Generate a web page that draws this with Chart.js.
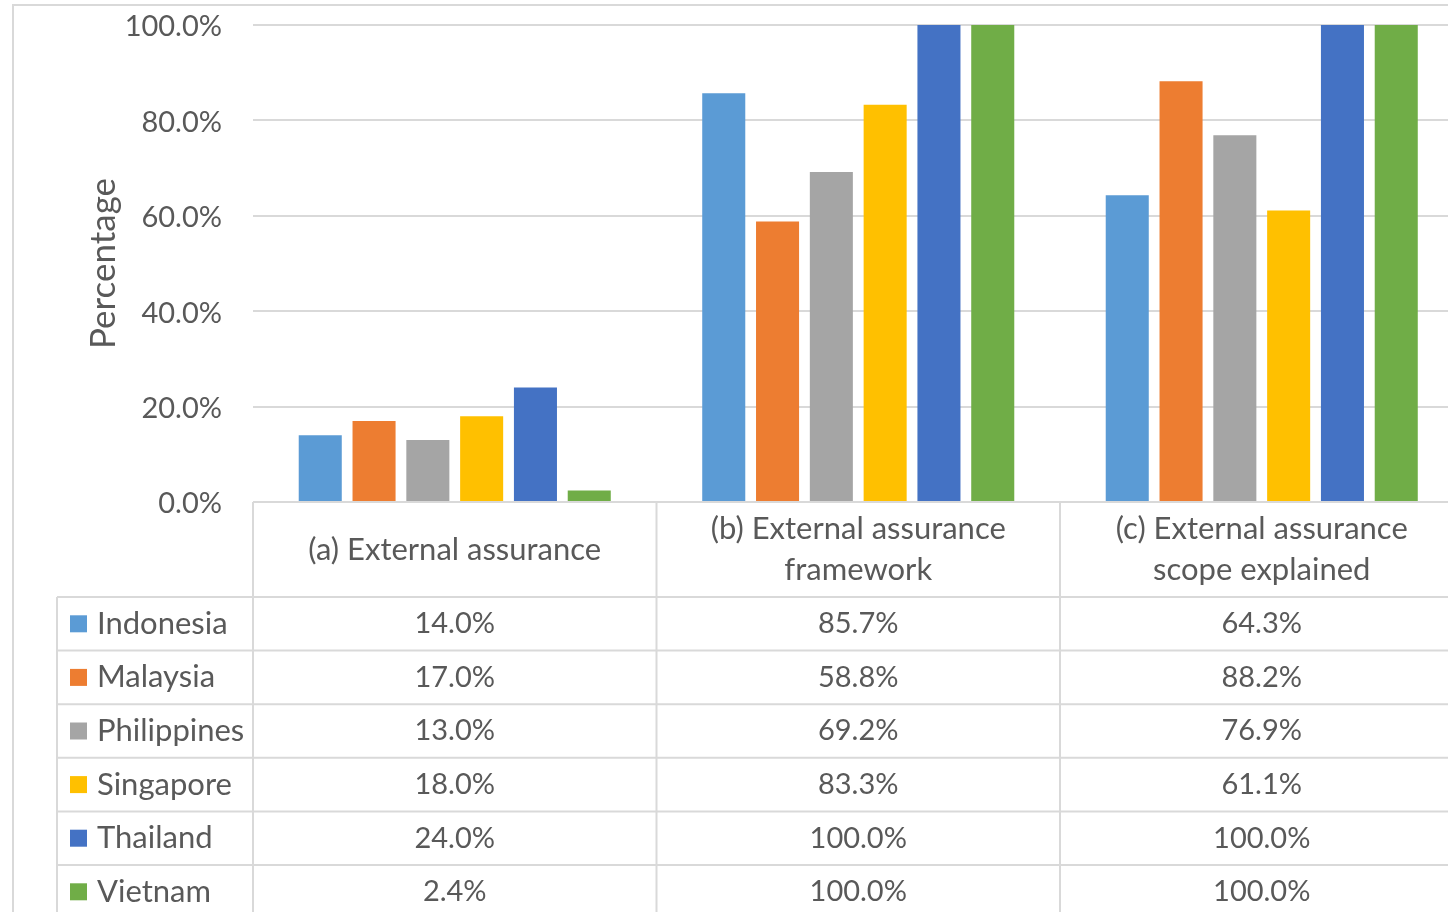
<!DOCTYPE html>
<html>
<head>
<meta charset="utf-8">
<script src="https://cdn.jsdelivr.net/npm/chart.js@4/dist/chart.umd.min.js"></script>
<style>
  html, body { margin: 0; padding: 0; background: #ffffff; overflow: hidden; }
  #wrap { width: 1448px; height: 912px; overflow: hidden; position: relative; }
  canvas { display: block; }
</style>
</head>
<body>
<div id="wrap"><canvas id="c" width="1470" height="930"></canvas></div>
<script>
// Categories (each entry holds the wrapped lines of the table header)
const categories = [
  ["(a) External assurance"],
  ["(b) External assurance", "framework"],
  ["(c) External assurance", "scope explained"]
];

// Series values, in percent
const indonesia   = [14.0, 85.7, 64.3];
const malaysia    = [17.0, 58.8, 88.2];
const philippines = [13.0, 69.2, 76.9];
const singapore   = [18.0, 83.3, 61.1];
const thailand    = [24.0, 100.0, 100.0];
const vietnam     = [2.4, 100.0, 100.0];

const countries = ["Indonesia", "Malaysia", "Philippines", "Singapore", "Thailand", "Vietnam"];
const seriesValues = [indonesia, malaysia, philippines, singapore, thailand, vietnam];
const seriesColors = ["#5B9BD5", "#ED7D31", "#A5A5A5", "#FFC000", "#4472C4", "#70AD47"];

// Y axis tick values
const yTicks = [0, 20, 40, 60, 80, 100];

const TEXT = "#595959";
const RULE = "#d9d9d9";
const FONT = "Lato, Carlito, Calibri, sans-serif";
const WORD_FONT = "31px " + FONT;
const NUM_FONT = "29px " + FONT;

const fmt = v => v.toFixed(1) + "%";

// Frame around the whole chart object
const frame = {
  id: "frame",
  beforeDraw(chart) {
    const ctx = chart.ctx;
    ctx.save();
    ctx.fillStyle = "#ffffff";
    ctx.fillRect(0, 0, chart.width, chart.height);
    ctx.strokeStyle = "#d9d9d9";
    ctx.lineWidth = 2;
    ctx.strokeRect(13, 5, chart.width + 40, chart.height + 40);
    ctx.restore();
  }
};

// Data table drawn under the plot, aligned with the category scale
const dataTable = {
  id: "dataTable",
  afterDraw(chart) {
    const ctx = chart.ctx;
    const xs = chart.scales.x;
    const area = chart.chartArea;
    const step = xs.getPixelForValue(1) - xs.getPixelForValue(0);
    const headerH = 95;
    const rowH = 53.6;
    const keyLeft = 57;
    const top = area.bottom;
    const headTop = top + headerH;
    const far = chart.width + 20;
    const bottom = headTop + rowH * countries.length + 20;

    ctx.save();
    ctx.strokeStyle = RULE;
    ctx.lineWidth = 2;
    ctx.beginPath();
    // axis line / header top
    ctx.moveTo(area.left, top);
    ctx.lineTo(far, top);
    // vertical separators between categories
    for (let i = 0; i <= categories.length; i++) {
      const x = area.left + i * step;
      ctx.moveTo(x, top);
      ctx.lineTo(x, bottom);
    }
    // left edge of the legend column
    ctx.moveTo(keyLeft, headTop);
    ctx.lineTo(keyLeft, bottom);
    // row separators
    for (let r = 0; r <= countries.length; r++) {
      const y = headTop + r * rowH;
      ctx.moveTo(keyLeft, y);
      ctx.lineTo(far, y);
    }
    ctx.stroke();

    ctx.fillStyle = TEXT;
    ctx.textAlign = "center";
    ctx.textBaseline = "middle";
    // header text
    ctx.font = WORD_FONT;
    const lineH = 41;
    categories.forEach((lines, i) => {
      const cx = xs.getPixelForValue(i);
      const cy = top + headerH / 2;
      lines.forEach((t, k) => {
        ctx.fillText(t, cx, cy + (k - (lines.length - 1) / 2) * lineH);
      });
    });
    // rows: legend key, country name, values
    countries.forEach((name, r) => {
      const cy = headTop + r * rowH + rowH / 2;
      ctx.fillStyle = seriesColors[r];
      ctx.fillRect(70, cy - 8.5, 17, 17);
      ctx.fillStyle = TEXT;
      ctx.textAlign = "left";
      ctx.font = WORD_FONT;
      ctx.fillText(name, 97, cy);
      ctx.textAlign = "center";
      ctx.font = NUM_FONT;
      seriesValues[r].forEach((v, i) => {
        ctx.fillText(fmt(v), xs.getPixelForValue(i), cy);
      });
    });
    ctx.restore();
  }
};

new Chart(document.getElementById("c"), {
  type: "bar",
  data: {
    labels: categories.map(l => l.join(" ")),
    datasets: countries.map((name, i) => ({
      label: name,
      data: seriesValues[i],
      backgroundColor: seriesColors[i],
      borderWidth: 0,
      categoryPercentage: 0.8,
      barPercentage: 0.8
    }))
  },
  options: {
    responsive: false,
    devicePixelRatio: 1,
    animation: false,
    layout: { padding: { top: 25, bottom: 930 - 502, left: 0, right: 6.5 } },
    plugins: {
      legend: { display: false },
      tooltip: { enabled: false }
    },
    scales: {
      x: { display: false },
      y: {
        min: 0,
        max: 100,
        afterBuildTicks: s => { s.ticks = yTicks.map(v => ({ value: v })); },
        afterFit: s => { s.width = 253; },
        border: { display: false },
        grid: { color: RULE, lineWidth: 2, drawTicks: true, tickLength: 31, tickColor: "rgba(0,0,0,0)" },
        ticks: {
          color: TEXT,
          font: { family: FONT, size: 29 },
          padding: 0,
          labelOffset: 2,
          callback: v => fmt(v)
        },
        title: {
          display: true,
          text: "Percentage",
          color: TEXT,
          font: { family: FONT, size: 35 },
          padding: { top: 83, bottom: 0 }
        }
      }
    }
  },
  plugins: [frame, dataTable]
});
</script>
</body>
</html>
